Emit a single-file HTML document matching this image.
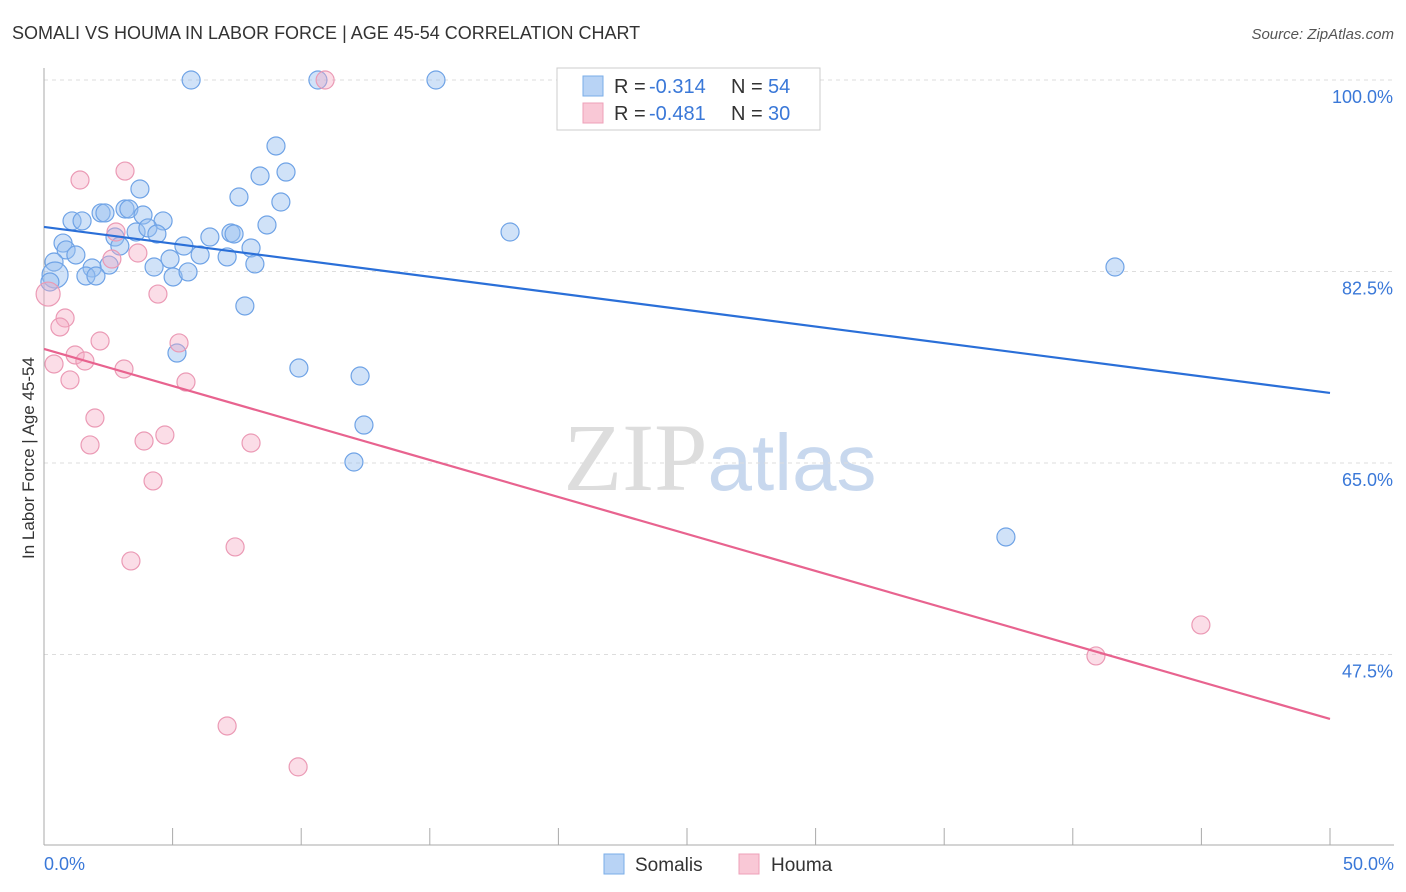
<!DOCTYPE html>
<html><head><meta charset="utf-8"><style>
body{margin:0;background:#fff;font-family:"Liberation Sans",sans-serif}
svg{display:block}
</style></head><body>
<svg id="chart" width="1406" height="892" xmlns="http://www.w3.org/2000/svg">
<text x="12" y="39" font-size="18" fill="#333">SOMALI VS HOUMA IN LABOR FORCE | AGE 45-54 CORRELATION CHART</text>
<text x="1394" y="39" font-size="15" fill="#555" text-anchor="end" font-style="italic">Source: ZipAtlas.com</text>
<text x="720" y="490" font-size="96" text-anchor="middle" fill="#ddd" font-family="Liberation Serif, serif">ZIP<tspan fill="#c8d8ee" font-family="Liberation Sans, sans-serif" font-size="80">atlas</tspan></text>
<g id="grid"></g><g id="axes"></g><g id="pts"></g><g id="lines"></g>
<text transform="translate(34,458) rotate(-90)" font-size="17" fill="#333" text-anchor="middle">In Labor Force | Age 45-54</text>
<g>
<rect x="557" y="68" width="263" height="62" fill="#fff" stroke="#ccc"/>
<rect x="583" y="76" width="20" height="20" fill="#b8d3f5" stroke="#7aaee8"/>
<rect x="583" y="103" width="20" height="20" fill="#f9c8d6" stroke="#eea0b8"/>
<text x="614" y="93" font-size="20" fill="#333">R =</text>
<text x="649" y="93" font-size="20" fill="#3a78d8">-0.314</text>
<text x="731" y="93" font-size="20" fill="#333">N =</text>
<text x="768" y="93" font-size="20" fill="#3a78d8">54</text>
<text x="614" y="120" font-size="20" fill="#333">R =</text>
<text x="649" y="120" font-size="20" fill="#3a78d8">-0.481</text>
<text x="731" y="120" font-size="20" fill="#333">N =</text>
<text x="768" y="120" font-size="20" fill="#3a78d8">30</text>
</g>
<g>
<rect x="604" y="854" width="20" height="20" fill="#b8d3f5" stroke="#7aaee8"/>
<text x="635" y="871" font-size="19" fill="#333">Somalis</text>
<rect x="739" y="854" width="20" height="20" fill="#f9c8d6" stroke="#eea0b8"/>
<text x="771" y="871" font-size="19" fill="#333">Houma</text>
</g>
</svg>
<script>
const blueX=[5.72,10.65,15.24,9.02,9.41,3.73,8.40,7.58,9.21,3.15,3.30,2.22,2.37,3.85,1.09,1.48,4.63,8.67,18.12,2.76,3.58,4.04,4.39,6.45,7.27,7.39,0.74,5.44,8.05,0.86,1.24,2.95,6.07,7.12,4.90,2.53,4.28,8.20,0.39,1.87,1.63,2.02,5.02,5.60,41.64,7.81,5.17,9.91,12.29,12.44,12.05,37.40,0.43,0.23];
const blueY=[100,100,100,93.97,91.59,90.04,91.23,89.31,88.85,88.21,88.21,87.85,87.85,87.66,87.12,87.12,87.12,86.75,86.11,85.65,86.11,86.48,85.93,85.65,86.02,85.93,85.10,84.83,84.65,84.47,84.01,84.83,84.01,83.83,83.64,83.09,82.91,83.19,83.37,82.82,82.09,82.09,82.00,82.46,82.91,79.35,75.05,73.68,72.95,68.47,65.09,58.24,82.18,81.54];
const pinkX=[3.15,1.40,2.80,3.65,2.64,4.43,0.16,0.82,0.62,2.18,5.25,1.21,1.59,0.39,3.11,1.01,5.52,1.98,1.79,3.89,4.70,8.05,4.24,7.43,3.38,7.12,9.88,40.90,44.98,10.93];
const pinkY=[91.68,90.86,86.11,84.19,83.64,80.44,80.44,78.25,77.43,76.15,75.97,74.87,74.32,74.05,73.59,72.59,72.40,69.11,66.65,67.01,67.56,66.83,63.36,57.33,56.05,40.97,37.23,47.37,50.20,100];
const blueTrend=[86.57,71.40];
const pinkTrend=[75.42,41.61];
const yTicks=[100,82.5,65,47.5];
const yTickLabels=["100.0%","82.5%","65.0%","47.5%"];
const xTickLabels=["0.0%","50.0%"];
const NS="http://www.w3.org/2000/svg";
const sx=v=>44+v*25.72, sy=v=>80+(100-v)*10.943;
function mk(t,a,p){const e=document.createElementNS(NS,t);for(const k in a)e.setAttribute(k,a[k]);p.appendChild(e);return e;}
const grid=document.getElementById('grid'),axes=document.getElementById('axes'),pts=document.getElementById('pts'),lines=document.getElementById('lines');
yTicks.forEach((v,i)=>{
 const l=mk('line',{x1:44,x2:1394,y1:sy(v),y2:sy(v),stroke:'#ddd','stroke-dasharray':'4,4'},grid);
 
 
 const t=mk('text',{x:1393,y:sy(v)+23,'font-size':18,fill:'#3a78d8','text-anchor':'end'},axes);
 t.textContent=yTickLabels[i];
 
 
});
const ax=mk('line',{x1:44,x2:44,y1:68,y2:845,stroke:'#aaa'},axes);


const bx=mk('line',{x1:44,x2:1394,y1:845,y2:845,stroke:'#aaa'},axes);


for(let i=0;i<=10;i++){const x=sx(i*5);const tk=mk('line',{x1:x,x2:x,y1:828,y2:845,stroke:'#aaa'},axes);
 
 }
[[0,'start',44],[50,'end',1394]].forEach((d,i)=>{const t=mk('text',{x:d[2],y:870,'font-size':18,fill:'#3a78d8','text-anchor':d[1]},axes);t.textContent=xTickLabels[i];
 
 });
function dots(X,Y,fill,stroke,name){X.forEach((x,i)=>{const r=(i===X.length-2&&name==='somali-point')?13:((name==='houma-point'&&i===6)?12:9);
 const c=mk('circle',{cx:sx(x),cy:sy(Y[i]),r:r,fill:fill,stroke:stroke,'stroke-width':1.2},pts);
 
 });}
dots(blueX,blueY,'rgba(150,190,240,0.45)','#6fa3e6','somali-point');
dots(pinkX,pinkY,'rgba(245,170,195,0.4)','#eb9ab5','houma-point');
const bl=mk('line',{x1:sx(0),y1:sy(blueTrend[0]),x2:sx(50),y2:sy(blueTrend[1]),stroke:'#2a6fd8','stroke-width':2.2},lines);


const pl=mk('line',{x1:sx(0),y1:sy(pinkTrend[0]),x2:sx(50),y2:sy(pinkTrend[1]),stroke:'#e8638f','stroke-width':2.2},lines);


</script>
</body></html>
